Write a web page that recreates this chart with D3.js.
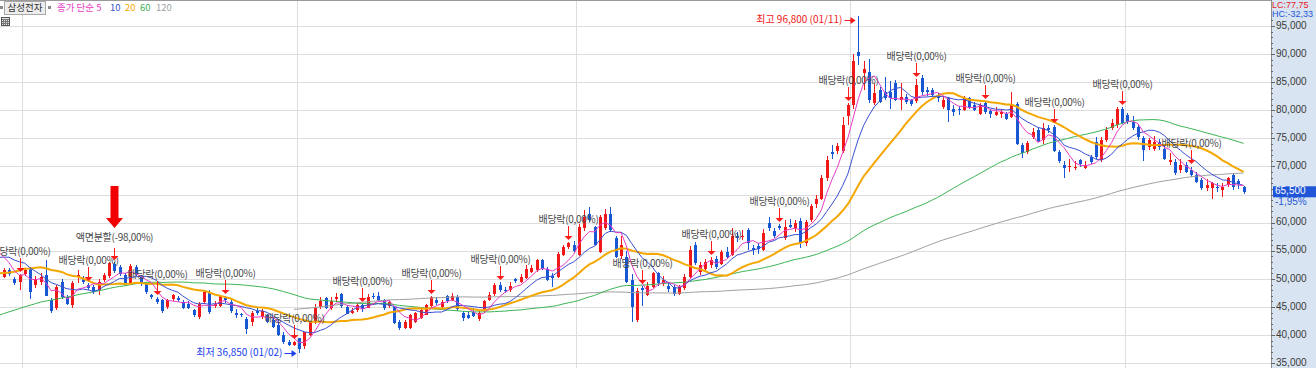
<!DOCTYPE html>
<html>
<head>
<meta charset="utf-8">
<script src="https://cdn.jsdelivr.net/npm/d3@7"></script>
<style>
  body { margin: 0; background: #fff; }
  svg { display: block; font-family: "Noto Sans CJK KR", "Noto Sans", sans-serif; }
</style>
</head>
<body>
<svg id="chart" width="1316" height="368"></svg>
<script>
// 삼성전자 weekly candles, week of 2017-12-04 .. week of 2022-06-06
const open = [
  50350,51650,50050,49450,50950,51850,48900,49500,50700,46200,
  44800,49500,46800,45300,50250,50050,48900,48600,48000,49800,
  50500,52600,52150,50650,49200,52150,50350,49300,47100,46500,
  46200,45050,46400,46650,45900,45600,44450,43150,45900,47700,
  45150,45250,46650,45900,43850,43700,42950,42300,44300,43300,
  43600,42700,41800,40100,38700,38300,39400,38000,40050,42300,
  45050,46650,44800,46500,47350,45000,43850,44500,45300,44900,
  47000,47000,46250,45200,45000,42300,41200,41300,42400,43000,
  43600,45100,46200,45000,46900,46200,46800,44000,43600,44100,
  42800,44200,46300,47300,48900,48100,48000,49900,49500,50100,
  51300,51600,53300,51850,50600,50400,54300,55700,56000,54300,
  59000,61600,59300,54800,59000,61600,57200,54000,53900,49800,
  42600,48300,47200,48500,51000,49100,48700,48600,47400,48300,
  50400,56000,51300,51800,52400,53600,52700,54800,54300,57600,
  57400,58700,55500,55800,55200,60000,58600,59500,57200,59600,
  59000,60300,56300,60400,63300,64300,67900,72600,72800,72800,
  79000,81000,90300,86700,86900,81300,83600,83300,83300,84800,
  81800,82400,81800,81600,85700,83600,83600,82700,80600,82100,
  80300,80300,80000,82100,80900,79400,81300,79900,79200,79400,
  79400,78800,81200,73800,72600,75300,76500,74700,76800,77100,
  72600,70300,69900,69700,71100,69800,71700,74300,71200,74700,
  76800,77400,80300,79200,78000,77100,75000,73500,73200,74400,
  73200,70800,70800,69400,70200,69400,68500,67600,66100,66100,
  66400,65800,66700,68500,67400,66300
];
const high = [
  51900,52000,50400,50900,51900,52100,50500,51000,53300,46600,
  48900,49900,47200,49700,51550,50500,49200,49000,49900,51000,
  53000,53000,52500,51000,52700,52400,50700,49500,47400,46800,
  46500,46500,47400,47000,46200,46000,44700,45900,48000,48000,
  46000,47200,47000,46200,44700,44000,43300,44200,44900,44700,
  43800,43300,42700,40500,39200,38900,39400,40550,42500,45500,
  46850,46850,46850,47500,47500,45350,44800,45700,45450,47250,
  47500,47700,46450,46300,45100,42700,42600,43800,44100,44600,
  45600,47000,46800,46200,47200,47500,47150,44200,44200,44800,
  44300,46300,47600,49200,49500,48500,49500,50100,50800,52400,
  52500,53600,53500,52100,51000,54800,56000,56600,56700,59700,
  62300,62800,59500,61300,62400,62800,57600,57600,54900,50900,
  48300,48800,49500,51300,51300,50500,49300,49000,48900,50800,
  55900,56500,53000,53500,53900,54000,55100,55600,59000,58400,
  58700,59000,56000,56300,58800,61000,59000,59700,60400,60700,
  60400,60800,60500,63400,65000,68500,71800,73900,74200,78800,
  81300,90000,96800,88700,89200,84600,84200,86000,85300,85400,
  84900,82900,82000,85500,86200,84200,84000,83000,82500,82400,
  81000,80800,82600,82400,81400,81300,81700,80300,80600,80200,
  79700,83300,81500,74100,74500,76900,77000,77700,77400,77300,
  73000,70900,71400,71000,71400,71000,72000,75300,75200,77000,
  78500,80600,80500,79600,79000,77500,75500,75000,75500,74900,
  73600,72400,71400,71300,70800,70000,69000,68000,67800,67300,
  67000,67000,68100,68900,67800,66500
];
const low = [
  50100,50500,48900,48000,50500,46500,48300,49000,46900,44000,
  44500,46500,45300,44800,49200,49100,48000,47300,47100,49400,
  50200,51000,50600,48800,48900,50500,48800,47300,46400,45600,
  44000,44700,46000,45900,44600,44600,43200,42800,45500,43800,
  44800,45000,45800,44000,43000,43200,40200,41700,43600,42900,
  42100,41300,39900,38500,38100,38000,36850,37550,39850,41900,
  44700,44650,44550,45900,44850,43750,43700,44100,44100,44900,
  46400,46100,44550,44900,42000,40850,41000,41100,42200,42800,
  43500,45000,45400,44450,45800,46000,44300,42500,42800,43300,
  42500,43900,46000,47000,47700,47500,47600,49300,49300,49900,
  51000,51300,51600,49700,48600,50100,54000,55300,54600,54000,
  58600,60100,55900,54600,58700,58300,53700,53600,49200,42300,
  42300,45100,46900,48300,48800,48700,47700,46900,47100,48000,
  50200,52400,50700,51400,52000,51800,52500,53500,54000,56600,
  57000,55100,54300,54500,54900,58600,57200,58700,57000,59000,
  58300,55500,55900,60200,62700,64000,67500,71400,72300,72400,
  77300,80200,88000,83700,81300,81000,81300,81900,80300,81700,
  80000,81100,80700,81300,82800,82600,82300,81500,80300,78000,
  79000,79200,79800,80200,79800,79100,79400,78600,78900,78700,
  78200,78600,73800,71500,72300,74900,74400,74000,76000,72600,
  70700,68000,69000,69300,70000,69500,70500,71300,70800,74400,
  76500,76800,77500,77600,76500,74800,71000,73000,72800,73000,
  71100,70300,68500,68900,68800,68200,67000,65800,65700,64300,
  65400,64500,66300,65900,66000,65100
];
const close = [
  51550,50850,49200,50650,51550,47700,50050,50400,47000,44300,
  48500,46800,45600,49300,50650,49500,48450,47700,49500,50650,
  52750,51450,50950,49200,52250,50850,49200,47700,46800,45900,
  44300,46200,47100,46200,44900,44900,43550,45600,47700,44150,
  45600,46950,46200,44300,43550,43550,41000,43850,44000,44200,
  42400,41500,40100,38700,38300,38700,37450,40500,42300,44750,
  46150,44800,46050,46750,45100,43800,44200,45300,44650,46850,
  46950,46250,44850,45900,42200,41200,42300,43500,43850,44400,
  45300,46800,45650,45900,46100,46900,44600,43000,43000,43400,
  44000,46000,47100,49000,48100,47800,48700,49600,50400,51800,
  51900,53300,51850,49800,50100,54500,55700,56300,54900,59300,
  61100,60500,56000,61000,61600,58700,53900,56000,49500,45000,
  47800,48000,48800,51000,49200,49800,48200,47300,48600,50400,
  55100,52800,52400,53000,53300,52200,54800,53900,57700,57300,
  57700,56300,55100,55300,58200,59000,57600,59000,59200,59300,
  59900,56300,60100,62900,64300,67900,71100,72300,73600,77400,
  81000,88800,89700,87300,81800,83000,81500,82100,82100,81800,
  82400,81500,81200,84500,83300,83300,82700,82100,81800,80000,
  79700,80000,82100,80600,80000,80900,79700,79300,79700,79700,
  78500,81200,74000,72400,74100,76200,74600,76800,76500,72700,
  70900,69700,70100,70000,70500,70300,70800,71700,74700,76500,
  77700,80200,77700,78000,76800,75300,72900,74700,74400,73500,
  71400,71100,68800,70200,69100,68500,67300,66100,66700,67000,
  66100,66400,67900,66400,66800,65500
];

// weekly closes before the first drawn candle (from 2016-09-12), they only feed the moving averages
const prevClose = [
  31000,32000,32000,33000,31000,32000,32400,32600,31800,32000,
  32900,34500,35000,35500,36000,36000,36000,37500,37500,39000,
  38000,38500,37500,38000,39500,39700,41500,41700,41400,41000,
  41300,41600,44600,45500,45700,45600,45200,45300,45900,47000,
  48500,47500,47600,49700,50000,49000,46800,45000,46600,46900,
  46700,49000,50500,50800,51000,51000,54200,53900,54000,56100,
  55900,56500,54600,51000
];

const maPeriods = [5, 10, 20, 60, 120];
const exDivIdx = [3, 16, 29, 42, 55, 68, 81, 94, 107, 121, 134, 147, 160, 173, 186, 199, 212, 225];
const splitIdx = 21;
const yearStartIdx = [4, 56, 109, 161, 213];
const maxIdx = 162, maxDate = "01/11";
const minIdx = 56, minDate = "01/02";
const lastPrice = 65500, lastChange = "-1,95%";
const lcText = "LC:77,75", hcText = "HC:-32,33";

// styles
const RED = "#f01818", BLUE = "#1757d4";
const maColors = ["#e83cc4", "#3a4fd0", "#f4a700", "#3cb454", "#a0a0a0"];
const maWidths = [1, 1, 2, 1, 1];

const svg = d3.select("#chart");
const W = 1316, H = 368, plotR = 1271;
const N = close.length;
const fmt = d3.format(",");

const x = d3.scaleLinear().domain([-0.7, 240.2]).range([0, plotR]);
const y = d3.scaleLinear().domain([35000, 95000]).range([363.2, 26]);
const cx = i => Math.round(x(i)) + 0.5;

svg.append("rect").attr("width", W).attr("height", H).attr("fill", "#fff");
svg.append("rect").attr("x", plotR).attr("width", W - plotR).attr("height", H).attr("fill", "#d8e4f1");
svg.append("defs").append("clipPath").attr("id", "plot")
  .append("rect").attr("width", plotR).attr("height", H);

// grid
const grid = svg.append("g").attr("stroke", "#dddddd").attr("shape-rendering", "crispEdges");
const majors = d3.range(35000, 95001, 5000);
grid.selectAll("line.h").data(majors).join("line").attr("class", "h")
  .attr("x1", 0).attr("x2", plotR)
  .attr("y1", d => Math.round(y(d)) + 0.5).attr("y2", d => Math.round(y(d)) + 0.5);
grid.selectAll("line.v").data(yearStartIdx).join("line").attr("class", "v")
  .attr("x1", d => Math.round(x(d - 0.5)) + 0.5).attr("x2", d => Math.round(x(d - 0.5)) + 0.5)
  .attr("y1", 0).attr("y2", H);
svg.append("line").attr("x1", 0).attr("x2", plotR).attr("y1", 0.5).attr("y2", 0.5)
  .attr("stroke", "#9a9a9a");

// candles
const plot = svg.append("g").attr("clip-path", "url(#plot)");
const idx = d3.range(N);
const col = i => close[i] >= open[i] ? RED : BLUE;
const cg = plot.append("g").attr("shape-rendering", "crispEdges");
cg.selectAll("line").data(idx).join("line")
  .attr("x1", cx).attr("x2", cx)
  .attr("y1", i => y(high[i])).attr("y2", i => y(low[i]))
  .attr("stroke", col);
cg.selectAll("rect").data(idx).join("rect")
  .attr("x", i => Math.round(x(i)) - 1).attr("width", 3)
  .attr("y", i => y(Math.max(open[i], close[i])))
  .attr("height", i => Math.max(1, Math.abs(y(open[i]) - y(close[i]))))
  .attr("fill", col);

// moving averages
const all = prevClose.concat(close);
const off = prevClose.length;
const line = d3.line().x(d => x(d[0])).y(d => y(d[1]));
for (let k = maPeriods.length - 1; k >= 0; k--) {
  const p = maPeriods[k];
  const pts = [];
  for (let j = p - 1; j < all.length; j++) {
    const i = j - off;
    if (i < -1) continue;
    pts.push([i, d3.mean(all.slice(j - p + 1, j + 1))]);
  }
  plot.append("path").datum(pts)
    .attr("fill", "none").attr("stroke", maColors[k]).attr("stroke-width", maWidths[k])
    .attr("d", line);
}

// markers
const notes = svg.append("g");
function downArrow(cxp, tip, len) {
  notes.append("line").attr("x1", cxp).attr("x2", cxp).attr("y1", tip - len).attr("y2", tip - 3)
    .attr("stroke", "#ff1a1a");
  notes.append("path").attr("d", `M${cxp - 4},${tip - 4}L${cxp + 4},${tip - 4}L${cxp},${tip}Z`)
    .attr("fill", "#ff1a1a");
}
exDivIdx.forEach(i => {
  const tip = Math.round(y(high[i])) - 2;
  downArrow(cx(i), tip, 14);
  notes.append("text").attr("x", cx(i)).attr("y", tip - 20)
    .attr("text-anchor", "middle").attr("dominant-baseline", "middle")
    .attr("font-size", 10).attr("letter-spacing", -0.3).attr("fill", "#4a4a4a")
    .text("배당락(0,00%)");
});
{
  const i = splitIdx, c = cx(i);
  const tip = Math.round(y(high[i])) - 2;
  downArrow(c, tip, 12);
  const ly = tip - 22;
  notes.append("text").attr("x", c).attr("y", ly)
    .attr("text-anchor", "middle").attr("dominant-baseline", "middle")
    .attr("font-size", 10).attr("letter-spacing", -0.3).attr("fill", "#4a4a4a")
    .text("액면분할(-98,00%)");
  notes.append("path")
    .attr("d", `M${c - 4},${ly - 52}H${c + 4}V${ly - 20}H${c + 8.5}L${c},${ly - 10}L${c - 8.5},${ly - 20}H${c - 4}Z`)
    .attr("fill", "#f00000");
}
function sideArrow(x1, x2, yy, color) {
  notes.append("line").attr("x1", x1).attr("x2", x2 - 3).attr("y1", yy).attr("y2", yy).attr("stroke", color);
  notes.append("path").attr("d", `M${x2 - 5},${yy - 3.5}L${x2},${yy}L${x2 - 5},${yy + 3.5}Z`).attr("fill", color);
}
{
  const c = cx(maxIdx), yy = Math.round(y(high[maxIdx])) + 4.5;
  sideArrow(c - 14, c - 3, yy, "#f01818");
  notes.append("text").attr("x", c - 16).attr("y", yy)
    .attr("text-anchor", "end").attr("dominant-baseline", "middle")
    .attr("font-size", 10).attr("fill", "#f01818")
    .text(`최고 ${fmt(high[maxIdx])} (${maxDate})`);
}
{
  const c = cx(minIdx), yy = Math.round(y(low[minIdx])) + 0.5;
  sideArrow(c - 15, c - 3, yy, "#2040ee");
  notes.append("text").attr("x", c - 17).attr("y", yy)
    .attr("text-anchor", "end").attr("dominant-baseline", "middle")
    .attr("font-size", 10).attr("fill", "#2040ee")
    .text(`최저 ${fmt(low[minIdx])} (${minDate})`);
}

// right axis
const ax = svg.append("g").attr("font-family", "Liberation Sans, sans-serif");
ax.append("line").attr("x1", plotR + 0.5).attr("x2", plotR + 0.5).attr("y1", 0).attr("y2", H)
  .attr("stroke", "#8c8c8c");
const minors = d3.range(35000, 96001, 1000);
ax.selectAll("line.t").data(minors).join("line").attr("class", "t")
  .attr("x1", plotR).attr("x2", d => plotR + (d % 5000 === 0 ? 4 : 2))
  .attr("y1", d => Math.round(y(d)) + 0.5).attr("y2", d => Math.round(y(d)) + 0.5)
  .attr("stroke", "#666").attr("shape-rendering", "crispEdges");
const py = y(lastPrice);
ax.selectAll("text.l").data(majors.filter(d => Math.abs(y(d) - py) > 10)).join("text").attr("class", "l")
  .attr("x", plotR + 5).attr("y", d => y(d))
  .attr("dominant-baseline", "middle")
  .attr("font-size", 10).attr("fill", "#3a3a3a")
  .text(d => fmt(d));
ax.append("rect").attr("x", plotR + 2).attr("y", py - 5.5).attr("width", W - plotR - 2).attr("height", 11)
  .attr("fill", "#1f55d6");
ax.append("text").attr("x", plotR + 4).attr("y", py)
  .attr("dominant-baseline", "middle")
  .attr("font-size", 10).attr("fill", "#fff").text(fmt(lastPrice));
ax.append("text").attr("x", plotR + 4).attr("y", py + 11)
  .attr("dominant-baseline", "middle")
  .attr("font-size", 10).attr("fill", "#2a5bd7").text(lastChange);
ax.append("text").attr("x", plotR + 1).attr("y", 6)
  .attr("dominant-baseline", "middle")
  .attr("font-size", 9).attr("fill", "#e8201e").text(lcText);
ax.append("text").attr("x", plotR + 1).attr("y", 15)
  .attr("dominant-baseline", "middle")
  .attr("font-size", 9).attr("fill", "#2255dd").text(hcText);

// legend
const lg = svg.append("g").attr("font-size", 9.5);
lg.append("rect").attr("x", 0).attr("y", 6).attr("width", 3).attr("height", 3).attr("fill", "#8a8a8a");
lg.append("rect").attr("x", 4.5).attr("y", 1.5).attr("width", 41).attr("height", 13)
  .attr("fill", "#ededed").attr("stroke", "#a8a8a8");
lg.append("text").attr("x", 25).attr("y", 8.5).attr("text-anchor", "middle")
  .attr("dominant-baseline", "middle").attr("fill", "#333").text("삼성전자");
lg.append("rect").attr("x", 48).attr("y", 6).attr("width", 3).attr("height", 3).attr("fill", "#8a8a8a");
const legendItems = [
  { t: "종가 단순 5", x: 57, c: maColors[0] },
  { t: "10", x: 110, c: maColors[1] },
  { t: "20", x: 125, c: maColors[2] },
  { t: "60", x: 140, c: maColors[3] },
  { t: "120", x: 156, c: maColors[4] }
];
lg.selectAll("text.m").data(legendItems).join("text").attr("class", "m")
  .attr("x", d => d.x).attr("y", 8.5).attr("dominant-baseline", "middle")
  .attr("fill", d => d.c).text(d => d.t);
// small table icon
const ic = svg.append("g").attr("shape-rendering", "crispEdges");
ic.append("rect").attr("x", 1.5).attr("y", 17.5).attr("width", 8).attr("height", 8)
  .attr("fill", "#e4e4e4").attr("stroke", "#555");
[3.5, 5.5, 7.5].forEach(v => {
  ic.append("line").attr("x1", v).attr("x2", v).attr("y1", 19).attr("y2", 25).attr("stroke", "#777");
  ic.append("line").attr("x1", 2).attr("x2", 9).attr("y1", v + 16).attr("y2", v + 16).attr("stroke", "#777");
});
</script>
</body>
</html>
